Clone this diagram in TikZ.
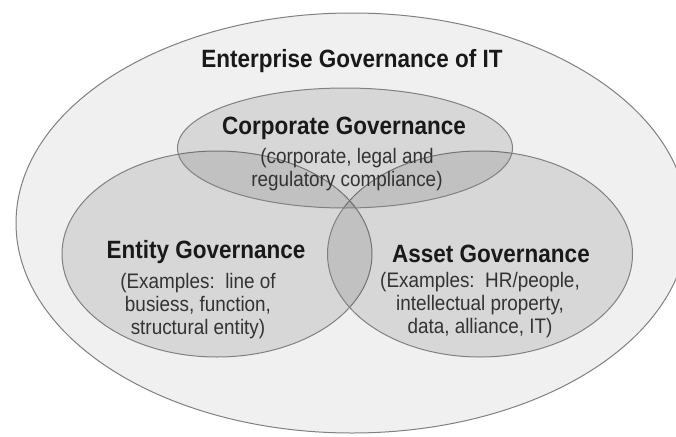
\documentclass[tikz,border=0pt]{standalone}
\usepackage{fontspec}
\setmainfont{Liberation Sans}[FakeStretch=0.9]
\usetikzlibrary{shapes.geometric}
\begin{document}
\begin{tikzpicture}[x=1pt,y=-1pt,
  ring/.style={ellipse, draw=black!50, line width=1pt, inner sep=0pt},
  outerring/.style={ring, fill=black!6},
  inring/.style={ring, fill=black, fill opacity=0.1},
  heading/.style={font=\bfseries\fontsize{25}{28}\selectfont, text=black!90},
  detail/.style={font=\fontsize{21}{23}\selectfont, text=black!80, align=center}]
  \useasboundingbox (0,0) rectangle (676,436);
  % enclosing set
  \node[outerring, minimum width=672pt, minimum height=420pt] (ent) at (352,223) {};
  % three overlapping areas
  \node[inring, minimum width=310pt, minimum height=206pt] (entity) at (217,254) {};
  \node[inring, minimum width=305pt, minimum height=206pt] (asset) at (480,254) {};
  \node[inring, minimum width=335pt, minimum height=120pt] (corp) at (345,148) {};
  % labels
  \node[heading] (entT) at (352,61) {Enterprise Governance of IT};
  \node[heading] (corpT) at (344,128) {Corporate Governance};
  \node[detail] (corpD) at (347,170) {(corporate, legal and\\regulatory compliance)};
  \node[heading] (entityT) at (206,252) {Entity Governance};
  \node[detail] (entityD) at (198,306) {(Examples:\ \ line of\\busiess, function,\\structural entity)};
  \node[heading] (assetT) at (491,254) {Asset Governance};
  \node[detail] (assetD) at (480,305) {(Examples:\ \ HR/people,\\intellectual property,\\data, alliance, IT)};
\end{tikzpicture}
\end{document}
